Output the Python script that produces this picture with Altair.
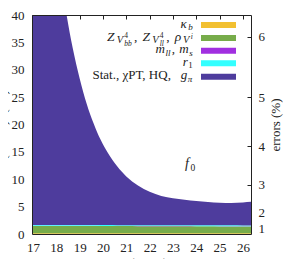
import altair as alt
import pandas as pd

# ---------------- data ----------------
q2 = [16.957, 17.5, 18.0, 18.44, 18.7, 19.0, 19.3, 19.6, 19.9, 20.2, 20.6, 21.0,
      21.5, 22.0, 22.5, 23.0, 23.5, 24.0, 24.5, 25.0, 25.5, 26.0, 26.345]
err_kappa_b = [0.12, 0.12, 0.12, 0.12, 0.12, 0.12, 0.12, 0.12, 0.12, 0.12, 0.12, 0.12,
               0.12, 0.12, 0.12, 0.12, 0.12, 0.12, 0.12, 0.12, 0.12, 0.12, 0.12]
err_z = [1.36, 1.36, 1.35, 1.35, 1.35, 1.34, 1.34, 1.34, 1.33, 1.33, 1.32, 1.32,
         1.31, 1.30, 1.30, 1.29, 1.29, 1.28, 1.28, 1.27, 1.27, 1.26, 1.26]
err_m = [0.03, 0.03, 0.03, 0.03, 0.03, 0.03, 0.03, 0.03, 0.03, 0.03, 0.03, 0.03,
         0.03, 0.03, 0.03, 0.03, 0.03, 0.03, 0.03, 0.03, 0.03, 0.03, 0.03]
err_r1 = [0.14, 0.14, 0.14, 0.14, 0.14, 0.14, 0.14, 0.15, 0.15, 0.15, 0.15, 0.15,
          0.16, 0.16, 0.16, 0.17, 0.17, 0.17, 0.17, 0.17, 0.17, 0.16, 0.16]
err_stat = [105.35, 72.25, 51.36, 38.36, 32.36, 26.77, 22.17, 18.56, 15.57, 13.27,
            10.78, 8.88, 7.24, 6.09, 5.34, 4.94, 4.66, 4.45, 4.25, 4.13, 4.09,
            4.19, 4.31]

series_names = ["kb", "z", "m", "r1", "stat"]
series_colors = ["#f2c031", "#77ac4a", "#a12fe0", "#33ffff", "#4e3c9d"]
series_values = [err_kappa_b, err_z, err_m, err_r1, err_stat]

x_ticks = [17, 18, 19, 20, 21, 22, 23, 24, 25, 26]
y_ticks = [0, 5, 10, 15, 20, 25, 30, 35, 40]
right_ticks = [1, 4, 9, 16, 25, 36]

# ---------------- tables ----------------
rows = []
for k, (name, vals) in enumerate(zip(series_names, series_values)):
    for q, v in zip(q2, vals):
        rows.append({"q2": q, "val": v, "src": name, "ord": k})
df = pd.DataFrame(rows)
df_tot = pd.DataFrame({"q2": q2, "tot": [sum(v) for v in zip(*series_values)]})

W, H = 219, 219
FONT = "Liberation Serif"
INK = "#222222"

xscale = alt.Scale(domain=[16.957, 26.345], nice=False, zero=False)
yscale = alt.Scale(domain=[0, 40], nice=False)

area = alt.Chart(df).mark_area(clip=True, interpolate="monotone").encode(
    x=alt.X("q2:Q", scale=xscale,
            axis=alt.Axis(orient="bottom", values=x_ticks, ticks=False, tickSize=0,
                          labelPadding=7, labelFont=FONT, labelFontSize=13,
                          labelColor=INK, domain=True, domainColor=INK, grid=False,
                          zindex=1, title="q² (GeV²)", titleFont=FONT,
                          titleFontSize=13, titleFontWeight="normal",
                          titleColor=INK, titlePadding=2)),
    y=alt.Y("val:Q", stack="zero", scale=yscale,
            axis=alt.Axis(orient="left", values=y_ticks, ticks=False, tickSize=0,
                          labelPadding=8, labelFont=FONT, labelFontSize=13,
                          labelColor=INK, domain=True, domainColor=INK, grid=False,
                          zindex=1, title="(errors)² (%²)", titleFont=FONT,
                          titleFontSize=13, titleFontWeight="normal",
                          titleColor=INK, titleX=-30, titleY=H / 2,
                          titleAngle=270, titleAlign="center",
                          titleBaseline="middle")),
    color=alt.Color("src:N", scale=alt.Scale(domain=series_names, range=series_colors),
                    legend=None),
    order=alt.Order("ord:Q"),
)

tick_layer = alt.Chart(df_tot).mark_point(opacity=0, clip=True).encode(
    x=alt.X("q2:Q", scale=xscale,
            axis=alt.Axis(orient="top", values=x_ticks, labels=False, domain=False,
                          ticks=True, tickSize=4, offset=-4, tickColor=INK,
                          grid=False, title=None, zindex=0)),
    y=alt.Y("tot:Q", scale=yscale,
            axis=alt.Axis(orient="right", values=right_ticks,
                          labelExpr="sqrt(datum.value)", domain=False, ticks=True,
                          tickSize=4, offset=-4, tickColor=INK, labelPadding=7,
                          labelFont=FONT, labelFontSize=13, labelColor=INK,
                          grid=False, zindex=0, title="errors (%)", titleFont=FONT,
                          titleFontSize=13, titleFontWeight="normal",
                          titleColor=INK, titleX=28, titleY=H / 2, titleAngle=270,
                          titleAlign="center", titleBaseline="middle")),
)

frame_layer = alt.Chart(df_tot).mark_point(opacity=0, clip=True).encode(
    x=alt.X("q2:Q", scale=xscale,
            axis=alt.Axis(orient="top", labels=False, ticks=False, domain=True,
                          domainColor=INK, grid=False, title=None, zindex=1)),
    y=alt.Y("tot:Q", scale=yscale,
            axis=alt.Axis(orient="right", labels=False, ticks=False, domain=True,
                          domainColor=INK, grid=False, title=None, zindex=1)),
)

# ---------------- legend (drawn by hand: labels left of swatches) ----------------
CW = {" ": .25, ",": .25, ".": .25, "S": .556, "T": .611, "H": .722, "Q": .722,
      "P": .556, "Z": .611, "V": .611, "a": .444, "t": .278, "b": .5, "l": .3,
      "m": .722, "s": .389, "r": .389, "g": .5, "i": .3, "1": .5, "4": .5,
      "κ": .55, "ρ": .55, "χ": .55, "π": .55}


def text_width(t, size):
    return sum(CW.get(c, .5) for c in t) * size * 1.05


one = pd.DataFrame({"a": [0]})
deco = []


def add_text(t, x, y, size, italic, align="left"):
    deco.append(alt.Chart(one).mark_text(
        align=align, baseline="alphabetic", font=FONT, fontSize=size,
        fontStyle="italic" if italic else "normal", color=INK
    ).encode(x=alt.value(x), y=alt.value(y), text=alt.value(t)))


def add_row(segs, x_right, base_y):
    total = sum(text_width(t, s) + g for (t, it, s, dy, adv, g) in segs if adv)
    x = x_right - total
    for t, it, s, dy, adv, g in segs:
        add_text(t, x, base_y + dy, s, it)
        if adv:
            x += text_width(t, s) + g


M, S = 13, 9
M2, S2, SS2 = 13.5, 10.5, 7.5
legend_rows = [
    [("κ", True, M, 0, True, 0.3), ("b", True, S, 2.5, True, 0)],
    [("Z", True, M2, 0, True, 1), ("V", True, S2, 2, True, 0.8),
     ("4", False, SS2, -2.5, False, 0), ("bb", True, SS2, 5, True, 1.8),
     (",", False, M2, 0, True, 5),
     ("Z", True, M2, 0, True, 1), ("V", True, S2, 2, True, 0.8),
     ("4", False, SS2, -2.5, False, 0), ("ll", True, SS2, 5, True, 1.8),
     (",", False, M2, 0, True, 5),
     ("ρ", True, M2, 0, True, 0.5), ("V", True, S2, 2, True, 0.8),
     ("i", True, SS2, -2, True, 0)],
    [("m", True, M, 0, True, 0.3), ("ll", True, S, 2.5, True, 0.5),
     (",", False, M, 0, True, 4), ("m", True, M, 0, True, 0.3),
     ("s", True, S, 2.5, True, 0)],
    [("r", True, M, 0, True, 0.3), ("1", False, S, 2.5, True, 0)],
    [("Stat., χPT, HQ, ", False, M, 0, True, 0), ("g", True, M, 0, True, 0.3),
     ("π", True, S, 2.5, True, 0)],
]
row_centers = [10, 23, 35.7, 48.3, 61.7]
for segs, cy, col in zip(legend_rows, row_centers, series_colors):
    deco.append(alt.Chart(one).mark_rect(color=col).encode(
        x=alt.value(169), x2=alt.value(204), y=alt.value(cy - 3), y2=alt.value(cy + 3)))
    add_row(segs, 161, cy + 2.5)

# f0 annotation
add_text("f", 153, 153, 14, True)
add_text("0", 158.5, 156, 9.5, False)

chart = alt.layer(area, tick_layer, frame_layer, *deco).resolve_axis(
    x="independent", y="independent"
).properties(
    width=W, height=H,
    autosize=alt.AutoSizeParams(type="none"),
    padding={"left": 24, "top": 7, "right": 40, "bottom": 26},
).configure_view(stroke=None)

chart.save("out.html", embed_options={"renderer": "svg", "actions": False})
